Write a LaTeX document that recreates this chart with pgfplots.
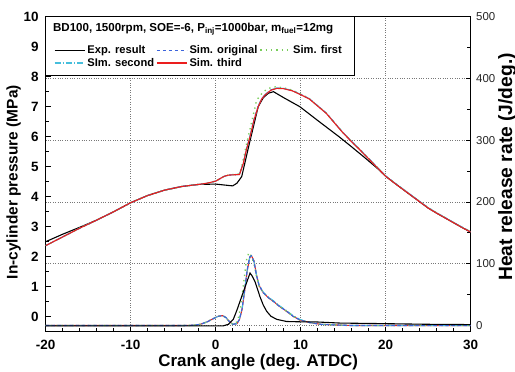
\documentclass[border=0pt]{standalone}
\usepackage{pgfplots}
\pgfplotsset{compat=1.18}
\usepackage{fontspec}
\setmainfont{Liberation Sans}
\definecolor{simblue}{RGB}{60,100,220}
\definecolor{simgreen}{RGB}{120,205,90}
\definecolor{simcyan}{RGB}{70,190,220}
\definecolor{simred}{RGB}{235,30,30}
\definecolor{gridgray}{RGB}{120,120,120}

% ---------- pressure (MPa) ----------
\pgfplotstableread{
x P
-20 2.50
-18 2.75
-16 2.98
-14 3.22
-12 3.50
-10 3.80
-8 4.04
-6 4.22
-4 4.34
-2 4.41
0 4.42
1 4.39
2 4.36
2.5 4.45
3.06 4.67
4.0 5.82
5.0 7.00
5.6 7.30
6.2 7.45
6.8 7.50
8 7.30
9.9 7.00
12 6.54
14.6 5.98
16 5.66
17.5 5.31
19 4.95
20 4.68
21 4.46
22 4.25
23 4.04
24 3.83
25 3.62
26 3.45
27 3.29
28 3.13
29 2.97
30 2.82
}\pExp
\pgfplotstableread{
x P
-20 2.37
-18 2.66
-16 2.95
-14 3.22
-12 3.50
-10 3.80
-8 4.04
-6 4.22
-4 4.34
-2 4.41
-1 4.45
0 4.52
0.5 4.60
1 4.68
1.5 4.72
2.8 4.74
3.25 5.11
3.6 5.55
4.04 6.00
4.5 6.55
5.0 7.00
5.4 7.25
5.8 7.39
6.5 7.55
7.2 7.61
8.0 7.60
9 7.53
10 7.40
11 7.26
12 7.02
13 6.78
14 6.45
14.6 6.25
15 6.12
16 5.83
17 5.55
18 5.26
19 4.97
20 4.68
21 4.46
22 4.25
23 4.04
24 3.83
25 3.62
26 3.45
27 3.29
28 3.13
29 2.97
30 2.82
}\pThird
\pgfplotstableread{
x P
-20 2.37
-18 2.66
-16 2.95
-14 3.22
-12 3.50
-10 3.80
-8 4.04
-6 4.22
-4 4.34
-2 4.41
-1 4.45
0 4.52
0.5 4.60
1 4.68
1.5 4.72
2.8 4.76
3.06 5.00
3.65 5.78
4.24 6.50
4.82 7.22
5.6 7.50
6.2 7.61
7.0 7.66
8.0 7.63
9 7.55
10 7.42
11 7.27
12 7.03
13 6.79
14 6.46
14.6 6.26
15 6.13
16 5.84
17 5.56
18 5.27
19 4.98
20 4.69
21 4.47
22 4.26
23 4.05
24 3.84
25 3.63
26 3.46
27 3.30
28 3.14
29 2.98
30 2.83
}\pFirst
\pgfplotstableread{
x P
-20 2.37
-18 2.66
-16 2.95
-14 3.22
-12 3.50
-10 3.80
-8 4.04
-6 4.22
-4 4.34
-2 4.41
-1 4.45
0 4.52
0.5 4.60
1 4.68
1.5 4.72
2.8 4.74
3.25 5.13
3.6 5.57
4.04 6.02
4.5 6.57
5.0 7.02
5.4 7.26
5.8 7.40
6.5 7.56
7.2 7.62
8.0 7.61
9 7.54
10 7.41
11 7.27
12 7.03
13 6.79
14 6.46
14.6 6.26
15 6.13
16 5.84
17 5.56
18 5.27
19 4.98
20 4.69
21 4.47
22 4.26
23 4.05
24 3.84
25 3.63
26 3.46
27 3.30
28 3.14
29 2.98
30 2.83
}\pOrig
\pgfplotstableread{
x P
-20 2.37
-18 2.66
-16 2.95
-14 3.22
-12 3.50
-10 3.80
-8 4.04
-6 4.22
-4 4.34
-2 4.41
-1 4.45
0 4.52
0.5 4.60
1 4.68
1.5 4.72
2.8 4.75
3.25 5.12
3.6 5.56
4.04 6.01
4.5 6.56
5.0 7.01
5.4 7.26
5.8 7.40
6.5 7.56
7.2 7.62
8.0 7.61
9 7.54
10 7.41
11 7.27
12 7.03
13 6.79
14 6.46
14.6 6.26
15 6.13
16 5.84
17 5.56
18 5.27
19 4.98
20 4.69
21 4.47
22 4.26
23 4.05
24 3.84
25 3.63
26 3.46
27 3.30
28 3.14
29 2.98
30 2.83
}\pSecond

% ---------- heat release rate (J/deg.) ----------
\pgfplotstableread{
x H
-20 -0.5
0.9 -0.5
1.5 2
2.07 10
2.5 25
3.06 47
3.6 68
4.04 85
4.3 80
4.63 71
5.2 47
5.6 33
6.0 23
6.5 15
7.18 10
8.35 6.5
10 6
11.5 6
14.6 4
20 3
25 2
30 1.5
}\hExp
\pgfplotstableread{
x H
-20 0
-4 0
-2.5 0.5
-1.8 2
-1 6
-0.3 11
0.3 15
0.8 16
1.2 13
1.5 8
2.0 2
2.5 3
2.8 10
3.1 26
3.4 55
3.7 88
4.0 110
4.2 113
4.5 105
4.8 82
5.1 65
5.6 53
6.2 45
6.8 39
7.5 31
8.35 23
9.1 15
9.9 9
11 5
12.3 2
14 1
16 0
30 0
}\hThird
\pgfplotstableread{
x H
-20 0
-4 0
-2.5 0.5
-1.8 2
-1 6
-0.3 11
0.3 15
0.8 16
1.2 13
1.5 8
2.0 2
2.4 4
2.7 14
3.0 35
3.3 70
3.6 105
3.9 118
4.2 112
4.5 100
4.8 80
5.1 64
5.6 53
6.2 45
6.8 39
7.5 31
8.35 23
9.1 15
9.9 9
11 5
12.3 2
14 1
16 0
30 0
}\hFirst
\pgfplotstableread{
x H
-20 0
-4 0
-2.5 0.5
-1.8 2
-1 6
-0.3 11
0.3 15
0.8 16
1.2 13
1.5 8
2.0 2
2.5 3
2.8 10
3.1 27
3.4 57
3.7 90
4.0 111
4.2 113
4.5 104
4.8 81
5.1 65
5.6 53
6.2 45
6.8 39
7.5 31
8.35 23
9.1 15
9.9 9
11 5
12.3 2
14 1
16 0
30 0
}\hOrig
\pgfplotstableread{
x H
-20 0
-4 0
-2.5 0.5
-1.8 2
-1 6
-0.3 11
0.3 15
0.8 16
1.2 13
1.5 8
2.0 2
2.5 3
2.8 11
3.1 27
3.4 56
3.7 89
4.0 110
4.2 112
4.5 104
4.8 82
5.1 66
5.6 54
6.2 46
6.8 40
7.5 32
8.35 24
9.1 16
9.9 10
11 5
12.3 2
14 1
16 0
30 0
}\hSecond

\pgfplotsset{
  expstyle/.style={black, line width=1.1bp},
  origstyle/.style={simblue, line width=1.1bp, dash pattern=on 3.5bp off 2.5bp},
  firststyle/.style={simgreen, line width=1.4bp, dash pattern=on 1.3bp off 4bp},
  secondstyle/.style={simcyan, line width=1.1bp, dash pattern=on 6bp off 2bp on 1.2bp off 2bp},
  thirdstyle/.style={simred, line width=1.1bp},
  common/.style={
    at={(0,0)}, anchor=south west,
    width=425bp, height=315bp, scale only axis,
    xmin=-20, xmax=30,
    set layers=standard,
    tick align=inside,
    major tick length=5bp, minor tick length=3.5bp,
    every tick/.style={black, line width=0.9bp},
    axis line style={line width=1.2bp},
    grid style={gridgray, dotted, line width=0.8bp},
    clip mode=individual,
    /pgf/number format/assume math mode=true,
  },
}

\begin{document}
\begin{tikzpicture}
\begin{axis}[
  common,
  ymin=-0.5, ymax=10,
  xtick={-20,-10,...,30}, minor x tick num=4,
  ytick={0,1,...,10}, minor y tick num=1,
  xtick pos=bottom, ytick pos=left,
  xmajorgrids,
  ticklabel style={font=\bfseries\fontsize{13.5}{14}\selectfont},
  xticklabel style={yshift=-5bp},
  yticklabel style={xshift=-3.5bp},
  xlabel={Crank angle (deg. ATDC)},
  ylabel={In-cylinder pressure (MPa)},
  xlabel style={font=\bfseries\fontsize{17}{18}\selectfont, at={(axis description cs:0.5,-0.0952)}, anchor=center},
  ylabel style={font=\bfseries\fontsize{15.5}{16}\selectfont, at={(axis description cs:-0.0753,0.475)}, anchor=center},
]
\addplot[expstyle] table[x=x,y=P] {\pExp};
\addplot[origstyle] table[x=x,y=P] {\pOrig};
\addplot[firststyle] table[x=x,y=P] {\pFirst};
\addplot[secondstyle] table[x=x,y=P] {\pSecond};
\addplot[thirdstyle] table[x=x,y=P] {\pThird};
\end{axis}

\begin{axis}[
  common,
  ymin=-10, ymax=500,
  axis x line=none, axis y line*=right,
  ytick={0,100,...,500}, minor y tick num=1,
  ymajorgrids,
  yticklabel style={font=\fontsize{11.5}{12}\selectfont, text=black!85, xshift=2bp},
  ylabel={Heat release rate (J/deg.)},
  ylabel style={font=\bfseries\fontsize{19.3}{20}\selectfont, at={(axis description cs:1.0642,0.523)}, anchor=north, inner sep=0pt},
  legend columns=3,
  legend cell align=left,
  legend image code/.code={\draw[#1] (0bp,0bp) -- (30bp,0bp);},
  legend style={at={(axis description cs:0.012,0.922)}, anchor=north west, draw=none, fill=none,
    font=\bfseries\fontsize{11.2}{12}\selectfont, row sep=-1bp,
    /tikz/every even column/.append style={column sep=0bp}},
]
\draw[line width=1.2bp, fill=white] (rel axis cs:0,0.8127) rectangle (rel axis cs:0.726,1);
\node[anchor=west, font=\bfseries\fontsize{11.6}{12}\selectfont, inner sep=0pt] at (rel axis cs:0.017,0.961)
  {BD100, 1500rpm, SOE=-6, P\textsubscript{inj}=1000bar, m\textsubscript{fuel}=12mg};
\addplot[thirdstyle, forget plot] table[x=x,y=H] {\hThird};
\addplot[secondstyle, forget plot] table[x=x,y=H] {\hSecond};
\addplot[firststyle, forget plot] table[x=x,y=H] {\hFirst};
\addplot[origstyle, forget plot] table[x=x,y=H] {\hOrig};
\addplot[expstyle, forget plot] table[x=x,y=H] {\hExp};
\addlegendimage{black, line width=1.3bp}
\addlegendentry{Exp. result}
\addlegendimage{simblue, line width=1.4bp, dash pattern=on 3.5bp off 2.5bp}
\addlegendentry{Sim. original}
\addlegendimage{simgreen, line width=1.6bp, dash pattern=on 1.3bp off 4bp}
\addlegendentry{Sim. first}
\addlegendimage{simcyan, line width=1.4bp, dash pattern=on 6bp off 2bp on 1.2bp off 2bp}
\addlegendentry{SIm. second}
\addlegendimage{simred, line width=1.4bp}
\addlegendentry{Sim. third}
\end{axis}
\pgfresetboundingbox
\useasboundingbox (-45.7bp,-40.3bp) rectangle (469.3bp,331.7bp);
\end{tikzpicture}
\end{document}
